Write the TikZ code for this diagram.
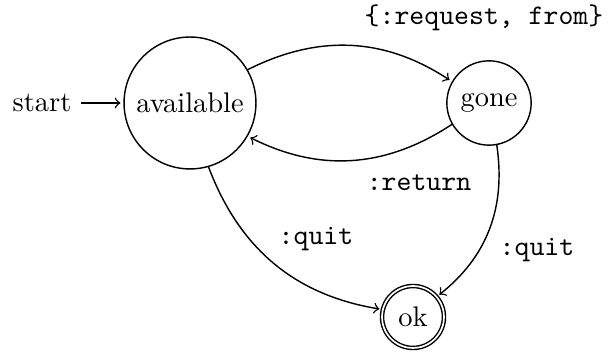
\documentclass[tikz,border=0pt]{standalone}
\begin{document}
\begin{tikzpicture}[x=0.352pt,y=-0.352pt,
  state/.style={circle,draw},
  accstate/.style={circle,draw,double},
  lbl/.style={font=\ttfamily},
  line width=0.5pt,
  shorten >=1pt]
\useasboundingbox (0,0) rectangle (609,353);
\node[state] (available) at (190,103) {available};
\node[state] (gone) at (489,103) {gone};
\node[accstate] (ok) at (413,317) {ok};
\node (start) at (42,103) {start};
\draw[->] (start) -- (available);
\draw[->] (available) to[bend left=30] (gone);
\draw[->] (gone) to[bend left=30] (available);
\draw[->] (available) to[bend right=30] (ok);
\draw[->] (gone) to[bend left=30] (ok);
\node[lbl] (lreq) at (484,18) {\{:request, from\}};
\node[lbl] (lret) at (419,183) {:return};
\node[lbl] (lq1) at (316,239) {:quit};
\node[lbl] (lq2) at (537,250) {:quit};
\end{tikzpicture}
\end{document}
